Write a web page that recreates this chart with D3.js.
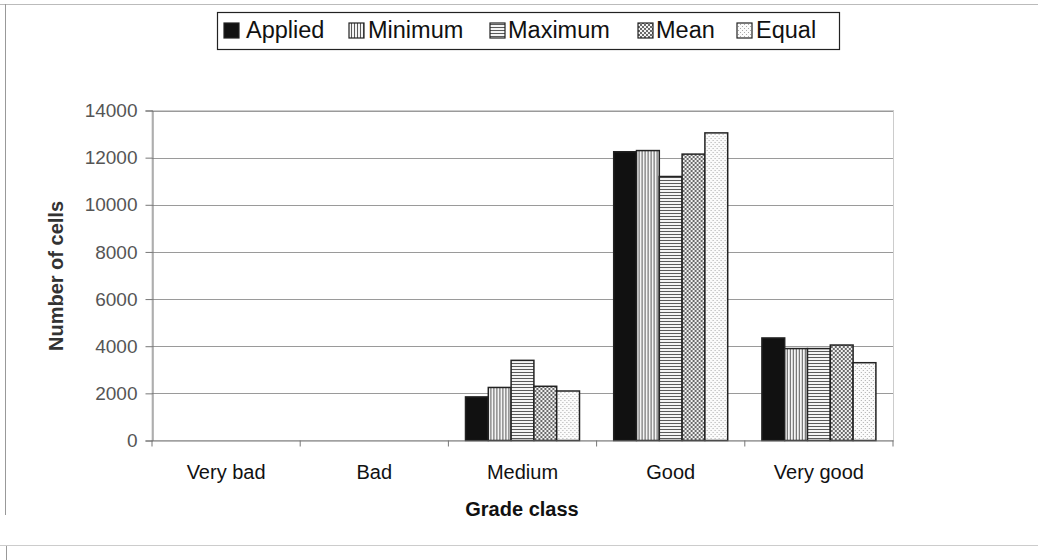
<!DOCTYPE html>
<html><head><meta charset="utf-8">
<script src="https://cdn.jsdelivr.net/npm/d3@7"></script>
<style>body{margin:0;background:#fff}svg{display:block;font-family:"Liberation Sans",Arial,sans-serif}</style>
</head><body><svg id="c" width="1038" height="560"></svg>
<script>
const categories = ["Very bad","Bad","Medium","Good","Very good"];
const seriesNames = ["Applied","Minimum","Maximum","Mean","Equal"];
const applied = [0,0,1850,12250,4350];
const minimum = [0,0,2250,12300,3900];
const maximum = [0,0,3400,11200,3900];
const mean    = [0,0,2300,12150,4050];
const equal   = [0,0,2100,13050,3300];
const yTicks = [0,2000,4000,6000,8000,10000,12000,14000];
const seriesValues = [applied,minimum,maximum,mean,equal];

const svg = d3.select("#c");
const defs = svg.append("defs");
function pat(id,w,h,bg,cells,col){
  const p = defs.append("pattern").attr("id",id).attr("patternUnits","userSpaceOnUse").attr("width",w).attr("height",h);
  p.append("rect").attr("width",w).attr("height",h).attr("fill",bg);
  cells.forEach(c=>p.append("rect").attr("x",c[0]).attr("y",c[1]).attr("width",c[2]).attr("height",c[3]).attr("fill",col));
}
pat("pMin",3,3,"#f4f4f4",[[0,0,1,3]],"#5a5a5a");
pat("pMax",3,3,"#f4f4f4",[[0,0,3,1]],"#5a5a5a");
pat("pMean",4,4,"#f2f2f2",[[0,0,2,2],[2,2,2,2]],"#6a6a6a");
pat("pEq",4,4,"#fbfbfb",[[0,0,1,1],[2,2,1,1]],"#aaa");
const fills = ["#111","url(#pMin)","url(#pMax)","url(#pMean)","url(#pEq)"];

// faint scan frame
const fr = svg.append("g").attr("stroke","#bbb").attr("fill","none");
fr.append("line").attr("x1",0).attr("x2",1038).attr("y1",4.5).attr("y2",4.5);
fr.append("line").attr("x1",5.5).attr("x2",5.5).attr("y1",4).attr("y2",515).attr("stroke","#999");
fr.append("line").attr("x1",0).attr("x2",1038).attr("y1",545.5).attr("y2",545.5).attr("stroke","#ccc");
fr.append("line").attr("x1",6.5).attr("x2",6.5).attr("y1",546).attr("y2",560).attr("stroke","#999");

const m = {l:152,r:893,t:110.5,b:440.5};
const x = d3.scaleBand().domain(categories).range([m.l,m.r]).paddingInner(0).paddingOuter(0);
const xs = d3.scaleBand().domain(seriesNames).range([0,x.bandwidth()]).paddingInner(0).paddingOuter(0.75);
const y = d3.scaleLinear().domain([0,14000]).range([m.b,m.t]);

// plot border
svg.append("rect").attr("x",m.l).attr("y",m.t).attr("width",m.r-m.l+0.5).attr("height",m.b-m.t).attr("fill","none").attr("stroke","#ccc");
// gridlines
svg.append("g").selectAll("line").data(yTicks.filter(d=>d>0)).join("line")
  .attr("x1",m.l).attr("x2",m.r).attr("y1",d=>Math.round(y(d))+0.5).attr("y2",d=>Math.round(y(d))+0.5)
  .attr("stroke","#9a9a9a").attr("stroke-width",1);

// bars
const cg = svg.append("g").selectAll("g").data(categories).join("g").attr("transform",d=>`translate(${x(d)},0)`);
cg.selectAll("rect").data((c,i)=>seriesNames.map((s,j)=>({s,j,v:seriesValues[j][i]})).filter(d=>d.v>0)).join("rect")
  .attr("x",d=>xs(d.s)).attr("width",xs.bandwidth())
  .attr("y",d=>y(d.v)).attr("height",d=>y(0)-y(d.v))
  .attr("fill",d=>fills[d.j]).attr("stroke","#222").attr("stroke-width",1.5);

// y axis
const ya = svg.append("g").attr("transform",`translate(${m.l+0.5},0)`)
  .call(d3.axisLeft(y).tickValues(yTicks).tickSize(7).tickPadding(8).tickFormat(d3.format("d")));
ya.select(".domain").attr("stroke","#777");
ya.selectAll(".tick line").attr("stroke","#777");
ya.selectAll("text").attr("font-size",19).attr("fill","#555").attr("font-family","Liberation Sans, Arial, sans-serif");

// x axis
const xa = svg.append("g").attr("transform",`translate(0,${m.b})`)
  .call(d3.axisBottom(x).tickSize(0).tickPadding(24));
xa.select(".domain").attr("stroke","#777");
xa.selectAll("text").attr("font-size",20).attr("fill","#111").attr("font-family","Liberation Sans, Arial, sans-serif");
svg.append("g").selectAll("line").data(d3.range(categories.length+1)).join("line")
  .attr("x1",i=>i<categories.length?x(categories[i]):m.r).attr("x2",i=>i<categories.length?x(categories[i]):m.r)
  .attr("y1",m.b).attr("y2",m.b+6).attr("stroke","#777");

// axis titles
svg.append("text").attr("transform","translate(63,276) rotate(-90)").attr("text-anchor","middle")
  .attr("font-size",20).attr("font-weight","bold").attr("fill","#333").text("Number of cells");
svg.append("text").attr("x",522).attr("y",516).attr("text-anchor","middle")
  .attr("font-size",20).attr("font-weight","bold").attr("fill","#111").text("Grade class");

// legend
svg.append("rect").attr("x",217.5).attr("y",12.5).attr("width",622).attr("height",37).attr("fill","#fff").attr("stroke","#222").attr("stroke-width",1.2);
const legSw = [224,349,490,638,737];
const legTx = [246,368,508,656,756];
svg.append("g").selectAll("rect").data(seriesNames).join("rect")
  .attr("x",(d,i)=>legSw[i]).attr("y",23).attr("width",15).attr("height",15)
  .attr("fill",(d,i)=>fills[i]).attr("stroke","#222").attr("stroke-width",1.2);
svg.append("g").selectAll("text").data(seriesNames).join("text")
  .attr("x",(d,i)=>legTx[i]).attr("y",38).attr("font-size",23.5).attr("fill","#111").text(d=>d);
</script></body></html>
